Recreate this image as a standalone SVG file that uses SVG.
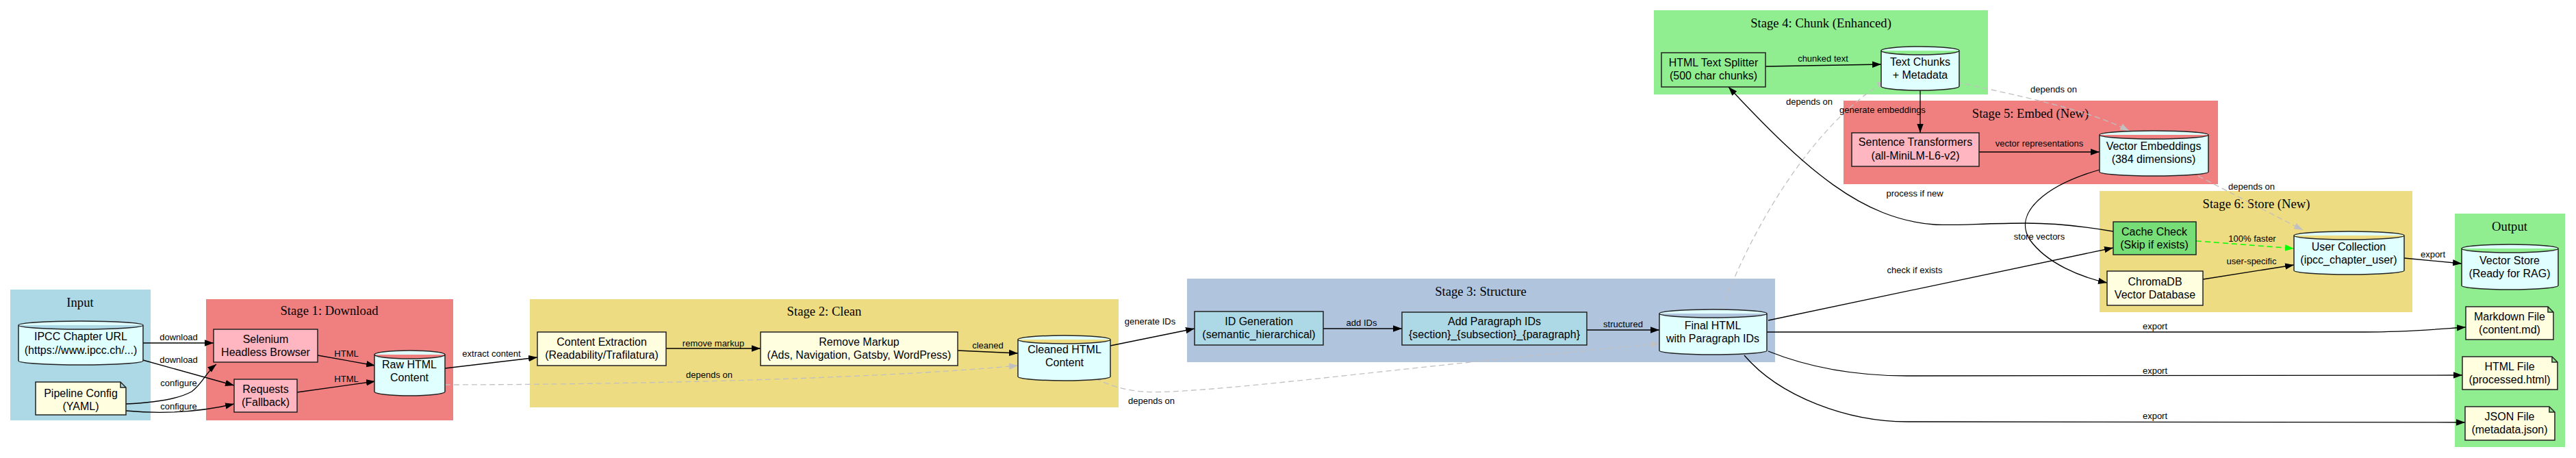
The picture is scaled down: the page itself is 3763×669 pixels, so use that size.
<svg xmlns="http://www.w3.org/2000/svg" width="3763" height="669" viewBox="0 0 3763 669">
<style>
.ct{font-family:"Liberation Serif",serif;font-size:18.67px;text-anchor:middle;fill:#000}
.nt{font-family:"Liberation Sans",Arial,sans-serif;font-size:16px;text-anchor:middle;fill:#000}
.el{font-family:"Liberation Sans",Arial,sans-serif;font-size:13px;text-anchor:middle;fill:#000}
.n{stroke:#222;stroke-width:1.5}
.e{fill:none;stroke:#000;stroke-width:1.3}
.d{fill:none;stroke:#c0c0c0;stroke-width:1.3;stroke-dasharray:8,5}
.g{fill:none;stroke:#00ff00;stroke-width:1.5;stroke-dasharray:8,5}
.cyl{fill:#e0ffff}
.pink{fill:#ffb6c1}
.yel{fill:#ffffe0}
.blu{fill:#add8e6}
</style>
<defs>
<marker id="a" markerUnits="userSpaceOnUse" markerWidth="14" markerHeight="10" refX="13" refY="5" orient="auto"><path d="M0,0.3 L13,5 L0,9.7 z" fill="#000"/></marker>
<marker id="ag" markerUnits="userSpaceOnUse" markerWidth="14" markerHeight="10" refX="13" refY="5" orient="auto"><path d="M0,0.3 L13,5 L0,9.7 z" fill="#c0c0c0"/></marker>
<marker id="agr" markerUnits="userSpaceOnUse" markerWidth="14" markerHeight="10" refX="13" refY="5" orient="auto"><path d="M0,0.3 L13,5 L0,9.7 z" fill="#00ff00"/></marker>
</defs>
<rect width="3763" height="669" fill="#fff"/>

<g id="clusters">
<rect x="15" y="423" width="205" height="191" fill="#add8e6"/>
<text class="ct" x="117" y="448">Input</text>
<rect x="301" y="437" width="361" height="177" fill="#f08080"/>
<text class="ct" x="481" y="460">Stage 1: Download</text>
<rect x="774" y="437" width="860" height="158" fill="#eedc82"/>
<text class="ct" x="1204" y="461">Stage 2: Clean</text>
<rect x="1734" y="407" width="859" height="122" fill="#b0c4de"/>
<text class="ct" x="2163" y="432">Stage 3: Structure</text>
<rect x="2416" y="15" width="488" height="123" fill="#90ee90"/>
<text class="ct" x="2660" y="40">Stage 4: Chunk (Enhanced)</text>
<rect x="2693" y="147" width="547" height="122" fill="#f08080"/>
<text class="ct" x="2966" y="172">Stage 5: Embed (New)</text>
<rect x="3067" y="279" width="457" height="177" fill="#eedc82"/>
<text class="ct" x="3296" y="304">Stage 6: Store (New)</text>
<rect x="3586" y="312" width="161" height="341" fill="#90ee90"/>
<text class="ct" x="3666" y="337">Output</text>
</g>

<g id="connectors">
<path class="e" d="M209,501 L312,501" marker-end="url(#a)"/>
<text class="el" x="261" y="497">download</text>
<path class="e" d="M209,526 L342,563" marker-end="url(#a)"/>
<text class="el" x="261" y="530">download</text>
<path class="e" d="M184,590 C230,588 262,582 280,572 C296,560 300,545 316,532" marker-end="url(#a)"/>
<text class="el" x="261" y="564">configure</text>
<path class="e" d="M184,600 C250,606 300,600 342,590" marker-end="url(#a)"/>
<text class="el" x="261" y="598">configure</text>
<path class="e" d="M464,519 L548,534" marker-end="url(#a)"/>
<text class="el" x="506" y="521">HTML</text>
<path class="e" d="M434,573 L548,557" marker-end="url(#a)"/>
<text class="el" x="506" y="558">HTML</text>
<path class="e" d="M650,538 L785,522" marker-end="url(#a)"/>
<text class="el" x="718" y="521">extract content</text>
<path class="e" d="M973,509 L1111,509" marker-end="url(#a)"/>
<text class="el" x="1042" y="506">remove markup</text>
<path class="e" d="M1399,512 L1487,516" marker-end="url(#a)"/>
<text class="el" x="1443" y="509">cleaned</text>
<path class="e" d="M1622,505 L1745,480" marker-end="url(#a)"/>
<text class="el" x="1680" y="474">generate IDs</text>
<path class="e" d="M1933,480 L2048,480" marker-end="url(#a)"/>
<text class="el" x="1989" y="476">add IDs</text>
<path class="e" d="M2318,482 L2424,482" marker-end="url(#a)"/>
<text class="el" x="2371" y="478">structured</text>
<path class="d" d="M650,562 C850,562 1250,556 1487,534" marker-end="url(#ag)"/>
<text class="el" x="1036" y="552">depends on</text>
<path class="d" d="M1600,553 C1640,572 1670,574 1710,572 C1850,565 2050,536 2424,502" marker-end="url(#ag)"/>
<text class="el" x="1682" y="590">depends on</text>
<path class="e" d="M2583,468 L3087,362" marker-end="url(#a)"/>
<text class="el" x="2797" y="399">check if exists</text>
<path class="e" d="M2581,485 L3455,485 C3520,485 3570,480 3602,478" marker-end="url(#a)"/>
<text class="el" x="3148" y="481">export</text>
<path class="e" d="M2583,513 C2650,540 2720,549 2786,549 L3597,548" marker-end="url(#a)"/>
<text class="el" x="3148" y="546">export</text>
<path class="e" d="M2548,519 C2600,580 2700,616 2786,616 L3601,617" marker-end="url(#a)"/>
<text class="el" x="3148" y="612">export</text>
<path class="d" d="M2515,452 C2560,330 2650,180 2755,118" marker-end="url(#ag)"/>
<text class="el" x="2643" y="153">depends on</text>
<path class="e" d="M2579,97 L2748,94" marker-end="url(#a)"/>
<text class="el" x="2663" y="90">chunked text</text>
<path class="e" d="M2805,132 L2805,194" marker-end="url(#a)"/>
<text class="el" x="2750" y="165">generate embeddings</text>
<path class="d" d="M2858,120 C2950,140 3050,160 3110,191" marker-end="url(#ag)"/>
<text class="el" x="3000" y="135">depends on</text>
<path class="e" d="M2891,222 L3067,222" marker-end="url(#a)"/>
<text class="el" x="2979" y="214">vector representations</text>
<path class="e" d="M3067,248 C2990,270 2940,310 2965,350 C2990,385 3040,405 3078,413" marker-end="url(#a)"/>
<text class="el" x="2979" y="350">store vectors</text>
<path class="e" d="M3087,338 C3040,330 3000,326 2960,326 C2900,326 2850,330 2826,328 C2720,320 2640,250 2525,127" marker-end="url(#a)"/>
<text class="el" x="2797" y="287">process if new</text>
<path class="d" d="M3211,257 L3364,336" marker-end="url(#ag)"/>
<text class="el" x="3289" y="277">depends on</text>
<path class="g" d="M3208,352 L3351,363" marker-end="url(#agr)"/>
<text class="el" x="3290" y="353">100% faster</text>
<path class="e" d="M3218,408 L3351,387" marker-end="url(#a)"/>
<text class="el" x="3289" y="386">user-specific</text>
<path class="e" d="M3512,377 L3596,385" marker-end="url(#a)"/>
<text class="el" x="3554" y="376">export</text>
</g>

<g id="ipcc_url">
<path class="n cyl" d="M27,475 A91,6 0 0 1 209,475 L209,527 A91,6 0 0 1 27,527 Z M27,475 A91,6 0 0 0 209,475"/>
<text class="nt" x="118" y="497">IPCC Chapter URL</text>
<text class="nt" x="118" y="517">(https://www.ipcc.ch/...)</text>
</g>
<g id="pipeline_config">
<path class="n yel" d="M52,558 L176,558 L184,566 L184,606 L52,606 Z M176,558 L176,566 L184,566"/>
<text class="nt" x="118" y="580">Pipeline Config</text>
<text class="nt" x="118" y="599">(YAML)</text>
</g>
<g id="selenium">
<rect class="n pink" x="312" y="481" width="152" height="48"/>
<text class="nt" x="388" y="501">Selenium</text>
<text class="nt" x="388" y="520">Headless Browser</text>
</g>
<g id="requests">
<rect class="n pink" x="342" y="554" width="92" height="48"/>
<text class="nt" x="388" y="574">Requests</text>
<text class="nt" x="388" y="593">(Fallback)</text>
</g>
<g id="raw_html">
<path class="n cyl" d="M547,518 A51.5,6 0 0 1 650,518 L650,572 A51.5,6 0 0 1 547,572 Z M547,518 A51.5,6 0 0 0 650,518"/>
<text class="nt" x="598" y="538">Raw HTML</text>
<text class="nt" x="598" y="557">Content</text>
</g>
<g id="content_extraction">
<rect class="n yel" x="785" y="485" width="188" height="49"/>
<text class="nt" x="879" y="505">Content Extraction</text>
<text class="nt" x="879" y="524">(Readability/Trafilatura)</text>
</g>
<g id="remove_markup">
<rect class="n yel" x="1111" y="485" width="288" height="49"/>
<text class="nt" x="1255" y="505">Remove Markup</text>
<text class="nt" x="1255" y="524">(Ads, Navigation, Gatsby, WordPress)</text>
</g>
<g id="cleaned_html">
<path class="n cyl" d="M1487,496 A67.5,6 0 0 1 1622,496 L1622,550 A67.5,6 0 0 1 1487,550 Z M1487,496 A67.5,6 0 0 0 1622,496"/>
<text class="nt" x="1555" y="516">Cleaned HTML</text>
<text class="nt" x="1555" y="535">Content</text>
</g>
<g id="id_generation">
<rect class="n blu" x="1745" y="455" width="188" height="49"/>
<text class="nt" x="1839" y="475">ID Generation</text>
<text class="nt" x="1839" y="494">(semantic_hierarchical)</text>
</g>
<g id="add_paragraph_ids">
<rect class="n blu" x="2048" y="456" width="270" height="48"/>
<text class="nt" x="2183" y="475">Add Paragraph IDs</text>
<text class="nt" x="2183" y="494">{section}_{subsection}_{paragraph}</text>
</g>
<g id="final_html">
<path class="n cyl" d="M2424,458 A78.5,6 0 0 1 2581,458 L2581,512 A78.5,6 0 0 1 2424,512 Z M2424,458 A78.5,6 0 0 0 2581,458"/>
<text class="nt" x="2502" y="481">Final HTML</text>
<text class="nt" x="2502" y="500">with Paragraph IDs</text>
</g>
<g id="text_splitter">
<rect class="n" fill="#90ee90" x="2427" y="77" width="152" height="50"/>
<text class="nt" x="2503" y="97">HTML Text Splitter</text>
<text class="nt" x="2503" y="116">(500 char chunks)</text>
</g>
<g id="text_chunks">
<path class="n cyl" d="M2748,74 A57,6 0 0 1 2862,74 L2862,126 A57,6 0 0 1 2748,126 Z M2748,74 A57,6 0 0 0 2862,74"/>
<text class="nt" x="2805" y="96">Text Chunks</text>
<text class="nt" x="2805" y="115">+ Metadata</text>
</g>
<g id="sentence_transformers">
<rect class="n pink" x="2705" y="194" width="186" height="49"/>
<text class="nt" x="2798" y="213">Sentence Transformers</text>
<text class="nt" x="2798" y="233">(all-MiniLM-L6-v2)</text>
</g>
<g id="vector_embeddings">
<path class="n cyl" d="M3067,197 A79.5,6 0 0 1 3226,197 L3226,251 A79.5,6 0 0 1 3067,251 Z M3067,197 A79.5,6 0 0 0 3226,197"/>
<text class="nt" x="3146" y="219">Vector Embeddings</text>
<text class="nt" x="3146" y="238">(384 dimensions)</text>
</g>
<g id="cache_check">
<rect class="n" fill="#77dd77" x="3087" y="324" width="121" height="48"/>
<text class="nt" x="3147" y="344">Cache Check</text>
<text class="nt" x="3147" y="363">(Skip if exists)</text>
</g>
<g id="chromadb">
<rect class="n yel" x="3078" y="396" width="140" height="50"/>
<text class="nt" x="3148" y="417">ChromaDB</text>
<text class="nt" x="3148" y="436">Vector Database</text>
</g>
<g id="user_collection">
<path class="n cyl" d="M3351,344 A80.5,6 0 0 1 3512,344 L3512,395 A80.5,6 0 0 1 3351,395 Z M3351,344 A80.5,6 0 0 0 3512,344"/>
<text class="nt" x="3431" y="366">User Collection</text>
<text class="nt" x="3431" y="385">(ipcc_chapter_user)</text>
</g>
<g id="vector_store">
<path class="n cyl" d="M3596,363 A70.5,6 0 0 1 3737,363 L3737,417 A70.5,6 0 0 1 3596,417 Z M3596,363 A70.5,6 0 0 0 3737,363"/>
<text class="nt" x="3666" y="386">Vector Store</text>
<text class="nt" x="3666" y="405">(Ready for RAG)</text>
</g>
<g id="markdown_file">
<path class="n yel" d="M3602,448 L3722,448 L3730,456 L3730,496 L3602,496 Z M3722,448 L3722,456 L3730,456"/>
<text class="nt" x="3666" y="468">Markdown File</text>
<text class="nt" x="3666" y="487">(content.md)</text>
</g>
<g id="html_file">
<path class="n yel" d="M3597,521 L3728,521 L3736,529 L3736,569 L3597,569 Z M3728,521 L3728,529 L3736,529"/>
<text class="nt" x="3666" y="541">HTML File</text>
<text class="nt" x="3666" y="560">(processed.html)</text>
</g>
<g id="json_file">
<path class="n yel" d="M3601,594 L3724,594 L3732,602 L3732,643 L3601,643 Z M3724,594 L3724,602 L3732,602"/>
<text class="nt" x="3666" y="614">JSON File</text>
<text class="nt" x="3666" y="633">(metadata.json)</text>
</g>
</svg>
